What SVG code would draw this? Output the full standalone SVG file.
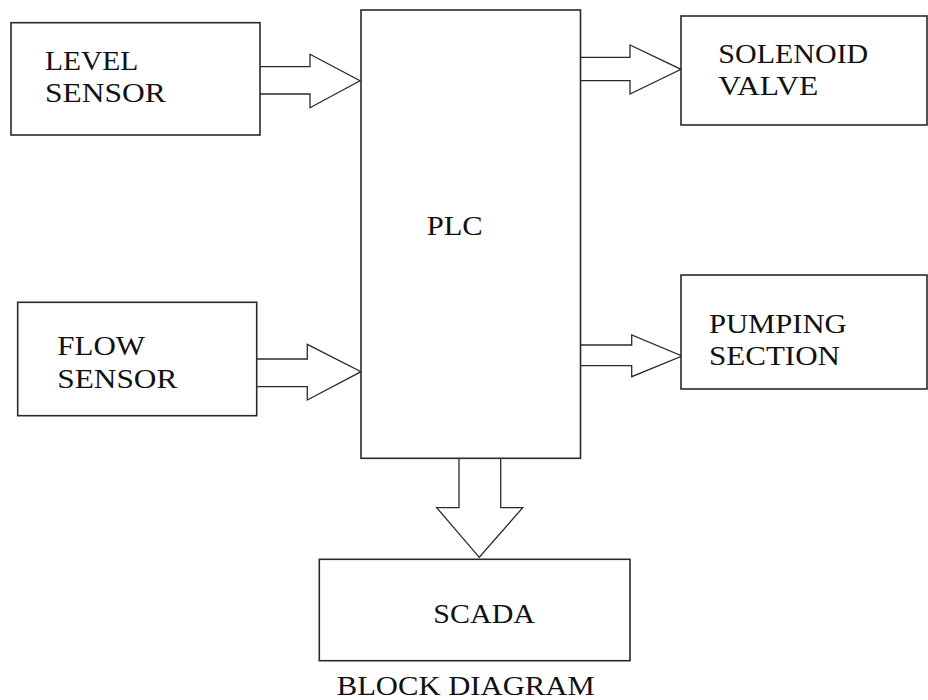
<svg xmlns="http://www.w3.org/2000/svg" width="928" height="700" viewBox="0 0 928 700">
<style>
.box{fill:#fff;stroke:#2a2a2a;stroke-width:1.6}
.arr{fill:#fff;stroke:#2a2a2a;stroke-width:1.3;stroke-linejoin:miter}
.t{font-family:"Liberation Serif","Times New Roman",serif;font-size:28px;fill:#111}
</style>
<rect width="928" height="700" fill="#fff"/>
<g id="connectors">
<polyline class="arr" points="260,66.7 310,66.7 310,54.3 360,80.7 310,107.7 310,94 260,94"/>
<polyline class="arr" points="257,359 307.3,359 307.3,344.3 361,371.7 307.3,400 307.3,386.7 257,386.7"/>
<polyline class="arr" points="581,57.3 630,57.3 630,45 681,69.3 630,94 630,80.7 581,80.7"/>
<polyline class="arr" points="581,345 631.7,345 631.7,335 682,356 631.7,376.7 631.7,365.7 581,365.7"/>
<polyline class="arr" points="459,458.3 459,507.7 436.7,507.7 479.3,557.3 522.7,507.7 500.7,507.7 500.7,458.3"/>
</g>
<g id="plc">
<rect class="box" x="361" y="10" width="219.5" height="448.3"/>
<text class="t" x="426.7" y="235" textLength="56" lengthAdjust="spacingAndGlyphs">PLC</text>
</g>
<g id="level-sensor">
<rect class="box" x="11" y="22.7" width="249" height="112.3"/>
<text class="t" x="45" y="70" textLength="93.3" lengthAdjust="spacingAndGlyphs">LEVEL</text>
<text class="t" x="45" y="101.7" textLength="120.7" lengthAdjust="spacingAndGlyphs">SENSOR</text>
</g>
<g id="flow-sensor">
<rect class="box" x="17.7" y="302.3" width="239" height="113.4"/>
<text class="t" x="57.3" y="355" textLength="87.7" lengthAdjust="spacingAndGlyphs">FLOW</text>
<text class="t" x="57.3" y="388.3" textLength="120" lengthAdjust="spacingAndGlyphs">SENSOR</text>
</g>
<g id="solenoid-valve">
<rect class="box" x="681" y="16" width="246" height="109"/>
<text class="t" x="718.3" y="63.3" textLength="150" lengthAdjust="spacingAndGlyphs">SOLENOID</text>
<text class="t" x="718.3" y="95" textLength="100" lengthAdjust="spacingAndGlyphs">VALVE</text>
</g>
<g id="pumping-section">
<rect class="box" x="681" y="275" width="246" height="114"/>
<text class="t" x="709" y="332.7" textLength="137.7" lengthAdjust="spacingAndGlyphs">PUMPING</text>
<text class="t" x="709" y="365" textLength="131" lengthAdjust="spacingAndGlyphs">SECTION</text>
</g>
<g id="scada">
<rect class="box" x="319.3" y="559.3" width="310.7" height="101.4"/>
<text class="t" x="433.3" y="623.3" textLength="101.7" lengthAdjust="spacingAndGlyphs">SCADA</text>
</g>
<text class="t" x="336.7" y="695" textLength="258" lengthAdjust="spacingAndGlyphs">BLOCK DIAGRAM</text>
</svg>
